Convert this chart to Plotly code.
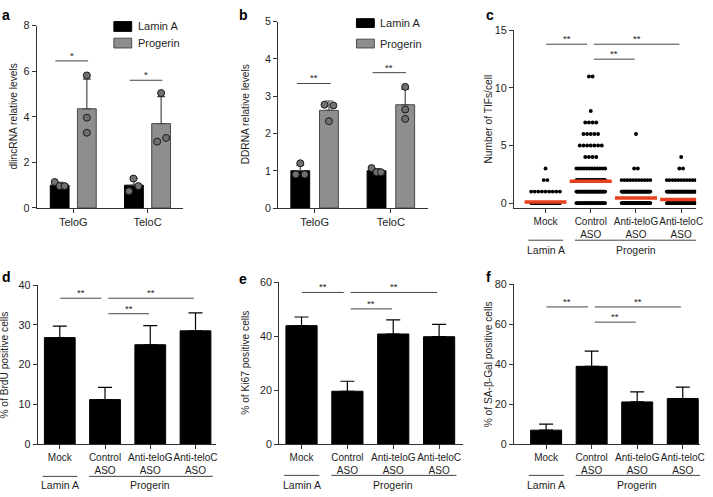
import plotly.graph_objects as go

W, H = 713, 497
FONT = "Liberation Sans, Arial, Helvetica, sans-serif"
TXT = "#1e1e1e"
AX = "#333333"

# ---------------- data ----------------
tel_groups = ["TeloG", "TeloC"]
series_names = ["Lamin A", "Progerin"]
dlinc_lamin_mean = [1.0, 1.0]
dlinc_lamin_sd = [0.12, 0.30]
dlinc_prog_mean = [4.35, 3.70]
dlinc_prog_sd = [1.30, 1.18]
dlinc_lamin_pts = [[1.14, 0.96, 0.96], [1.29, 0.74, 0.96]]
dlinc_prog_pts = [[5.81, 3.96, 3.30], [5.04, 2.91, 3.07]]

ddrna_lamin_mean = [1.0, 1.0]
ddrna_lamin_sd = [0.14, 0.06]
ddrna_prog_mean = [2.62, 2.77]
ddrna_prog_sd = [0.25, 0.42]
ddrna_lamin_pts = [[1.20, 0.90, 0.90], [1.07, 0.96, 0.96]]
ddrna_prog_pts = [[2.77, 2.75, 2.33], [3.25, 2.64, 2.39]]

conditions = ["Mock", "Control<br>ASO", "Anti-teloG<br>ASO", "Anti-teloC<br>ASO"]
tif_levels = [0, 1, 2, 3, 4, 5, 6, 7, 8, 11]
tif_mock_counts = [60, 9, 2, 1, 0, 0, 0, 0, 0, 0]
tif_control_counts = [30, 40, 40, 12, 4, 7, 5, 4, 1, 2]
tif_telog_counts = [50, 50, 11, 2, 0, 0, 1, 0, 0, 0]
tif_teloc_counts = [50, 50, 11, 2, 1, 0, 0, 0, 0, 0]
tif_mean = [0.10, 1.90, 0.45, 0.31]

brdu_mean = [26.8, 11.2, 25.0, 28.5]
brdu_sd = [2.9, 3.1, 4.8, 4.5]
ki67_mean = [43.9, 19.6, 40.8, 39.8]
ki67_sd = [3.2, 3.7, 5.2, 4.6]
sagal_mean = [7.0, 38.9, 21.1, 22.8]
sagal_sd = [3.0, 7.6, 5.0, 5.7]

# ---------------- layout geometry (pixels) ----------------
geo = {
    1: dict(x0=37, x1=185, yt=20, yb=207, xr=[-0.493, 1.48], yr=[0, 8], dt=2),
    2: dict(x0=281, x1=432, yt=16, yb=207, xr=[-0.477, 1.484], yr=[0, 5], dt=1),
    3: dict(x0=519, x1=703, yt=25, yb=207.3, xr=[-0.70, 3.33], yr=[-0.45, 15], dt=5),
    4: dict(x0=38, x1=218, yt=286, yb=449, xr=[-0.49, 3.45], yr=[0, 40], dt=10),
    5: dict(x0=282, x1=468, yt=283, yb=449, xr=[-0.486, 3.53], yr=[0, 60], dt=20),
    6: dict(x0=519, x1=707, yt=285, yb=449, xr=[-0.707, 3.38], yr=[0, 80], dt=20),
}
FILL = {"Lamin A": ("#000000", "#000000"), "Progerin": ("#8e8e8e", "#4a4a4a")}


def ppu(n):
    g = geo[n]
    return (g["x1"] - g["x0"]) / (g["xr"][1] - g["xr"][0])


def ax(n, c):
    return c if n == 1 else f"{c}{n}"


fig = go.Figure()
shapes, annots = [], []

# ---------- panels a & b (grouped bars with points) ----------
jit_a_lamin = [[-5, 0, 5], [-0.5, -5, 4.5]]
jit_a_prog = [[0, 0, 0], [0, -4, 5]]
jit_b_lamin = [[0, -4.5, 4.5], [-5, 0, 4.5]]
jit_b_prog = [[-4.5, 4.5, 0], [0, 0, 0]]

specs = [
    (1, dlinc_lamin_mean, dlinc_lamin_sd, dlinc_prog_mean, dlinc_prog_sd,
     dlinc_lamin_pts, dlinc_prog_pts, jit_a_lamin, jit_a_prog, 0.183, 0.253),
    (2, ddrna_lamin_mean, ddrna_lamin_sd, ddrna_prog_mean, ddrna_prog_sd,
     ddrna_lamin_pts, ddrna_prog_pts, jit_b_lamin, jit_b_prog, 0.188, 0.247),
]
for n, lm, ls, pm, ps, lpts, ppts, jl, jp, off, bw in specs:
    idx = list(range(len(tel_groups)))
    for name, mean, sd, sign, pts, jit in [
        (series_names[0], lm, ls, -1, lpts, jl),
        (series_names[1], pm, ps, 1, ppts, jp),
    ]:
        fill, lc = FILL[name]
        fig.add_trace(go.Bar(
            x=[i + sign * off for i in idx], y=mean, width=bw, name=name,
            marker=dict(color=fill, line=dict(color=lc, width=1)),
            error_y=dict(type="data", array=sd, arrayminus=[0] * len(sd), symmetric=False,
                         color="#4a4a4a", thickness=1.2, width=4),
            xaxis=ax(n, "x"), yaxis=ax(n, "y"), showlegend=False,
        ))
        px = ppu(n)
        xs, ys = [], []
        for i in idx:
            for v, j in zip(pts[i], jit[i]):
                xs.append(i + sign * off + j / px)
                ys.append(v)
        fig.add_trace(go.Scatter(
            x=xs, y=ys, mode="markers", showlegend=False,
            marker=dict(size=7, color="#707070", line=dict(color="#1a1a1a", width=1)),
            xaxis=ax(n, "x"), yaxis=ax(n, "y"), hoverinfo="skip",
        ))

# legend keys for panels a and b
for (sx, rows) in [(115, [(16, 26), (33, 43)]), (360, [(13, 22), (34, 43)])]:
    for name, (t, b) in zip(series_names, rows):
        fill, lc = FILL[name]
        shapes.append(dict(type="rect", xref="paper", yref="paper", x0=sx / W, x1=(sx + 18) / W,
                           y0=1 - b / H, y1=1 - t / H, fillcolor=fill, line=dict(color=lc, width=1)))
        annots.append(dict(text=name, xref="paper", yref="paper", x=(sx + 22) / W, y=1 - (t + b) / 2 / H,
                           showarrow=False, xanchor="left", yanchor="middle",
                           font=dict(size=11, color=TXT, family=FONT)))

# ---------- panel c (dot strip) ----------
n = 3
px = ppu(n)
for i, counts in enumerate([tif_mock_counts, tif_control_counts, tif_telog_counts, tif_teloc_counts]):
    xs, ys = [], []
    for lev, cnt in zip(tif_levels, counts):
        if cnt == 0:
            continue
        step = 3.7 if cnt == 1 else min(3.7, 29.0 / (cnt - 1))
        for k in range(cnt):
            xs.append(i + (k - (cnt - 1) / 2) * step / px)
            ys.append(lev)
    fig.add_trace(go.Scatter(
        x=xs, y=ys, mode="markers", showlegend=False, hoverinfo="skip",
        marker=dict(size=3.9, color="#000000", line=dict(width=0)),
        xaxis="x3", yaxis="y3",
    ))
fig.add_trace(go.Scatter(
    x=list(range(len(tif_mean))), y=tif_mean, mode="markers", showlegend=False,
    marker=dict(symbol="line-ew", size=30, line=dict(color="#e8401c", width=3.5)),
    xaxis="x3", yaxis="y3",
))

# ---------- panels d, e, f (bars) ----------
for n, mean, sd in [(4, brdu_mean, brdu_sd), (5, ki67_mean, ki67_sd), (6, sagal_mean, sagal_sd)]:
    fig.add_trace(go.Bar(
        x=list(range(len(conditions))), y=mean, width=0.68, showlegend=False,
        marker=dict(color="#000000", line=dict(color="#000000", width=1)),
        error_y=dict(type="data", array=sd, arrayminus=[0] * len(sd), symmetric=False,
                     color="#000000", thickness=1.2, width=7),
        xaxis=ax(n, "x"), yaxis=ax(n, "y"),
    ))

# ---------- axes ----------
layout = {}
for n, g in geo.items():
    xd = [g["x0"] / W, g["x1"] / W]
    yd = [1 - g["yb"] / H, 1 - g["yt"] / H]
    if n <= 2:
        tv, tt, fs = list(range(len(tel_groups))), tel_groups, 11
    else:
        tv, tt, fs = list(range(len(conditions))), conditions, 10
    layout["xaxis" if n == 1 else f"xaxis{n}"] = dict(
        domain=xd, range=g["xr"], anchor=ax(n, "y"), showgrid=False, zeroline=False,
        showline=True, linecolor=AX, linewidth=1, ticks="outside", ticklen=4,
        tickcolor=AX, tickwidth=1, tickvals=tv, ticktext=tt, tickangle=0,
        tickfont=dict(size=fs, color=TXT, family=FONT), fixedrange=True,
    )
    yvals = list(range(0, int(g["yr"][1]) + 1, g["dt"]))
    layout["yaxis" if n == 1 else f"yaxis{n}"] = dict(
        domain=yd, range=g["yr"], anchor=ax(n, "x"), showgrid=False, zeroline=False,
        showline=True, linecolor=AX, linewidth=1, ticks="outside", ticklen=4,
        tickcolor=AX, tickwidth=1, tickvals=yvals,
        tickfont=dict(size=10.8, color=TXT, family=FONT), fixedrange=True,
    )

# y titles
ytitles = {1: ("dlincRNA relative levels", 14), 2: ("DDRNA relative levels", 248),
           3: ("Number of TIFs/cell", 493), 4: ("% of BrdU positive cells", 5),
           5: ("% of Ki67 positive cells", 248), 6: ("% of SA-β-Gal positive cells", 493)}
for n, (t, xp) in ytitles.items():
    g = geo[n]
    annots.append(dict(text=t, textangle=-90, x=xp / W, y=1 - (g["yt"] + g["yb"]) / 2 / H,
                       xref="paper", yref="paper", showarrow=False, xanchor="center",
                       yanchor="middle", font=dict(size=10.2, color=TXT, family=FONT)))

# panel letters
for lab, xp, yp in [("a", 0, 9), ("b", 239, 9), ("c", 489, 9),
                    ("d", 0, 278), ("e", 239, 280), ("f", 489, 278)]:
    annots.append(dict(text=f"<b>{lab}</b>", x=xp / W, y=1 - yp / H, xref="paper", yref="paper",
                       showarrow=False, xanchor="left", yanchor="middle",
                       font=dict(size=14, color="#000000", family=FONT)))


# significance bars
def sig(n, x0, x1, y, label):
    shapes.append(dict(type="line", xref=ax(n, "x"), yref=ax(n, "y"), x0=x0, x1=x1, y0=y, y1=y,
                       line=dict(color="#444444", width=1)))
    annots.append(dict(text=label, xref=ax(n, "x"), yref=ax(n, "y"), x=(x0 + x1) / 2, y=y,
                       showarrow=False, yanchor="bottom", yshift=-2,
                       font=dict(size=9.5, color="#222222", family=FONT)))


sig(1, -0.24, 0.20, 6.45, "*")
sig(1, 0.76, 1.20, 5.6, "*")
sig(2, -0.23, 0.21, 3.34, "**")
sig(2, 0.76, 1.20, 3.63, "**")
for n, hi, lo in [(3, 13.8, 12.5), (4, 36.7, 32.8), (5, 56.2, 50.1), (6, 68.6, 61.0)]:
    sig(n, 0.01, 0.92, hi, "**")
    sig(n, 1.07, 2.96, hi, "**")
    sig(n, 1.07, 1.97, lo, "**")

# group labels
for n, yline, ytext in [(3, 240, 250), (4, 482, 491), (5, 481, 491), (6, 481, 491)]:
    for x0, x1, t in [(-0.38, 0.39, "Lamin A"), (0.65, 3.38, "Progerin")]:
        shapes.append(dict(type="line", xref=ax(n, "x"), yref="paper", x0=x0, x1=x1,
                           y0=1 - yline / H, y1=1 - yline / H, line=dict(color="#444444", width=1)))
        annots.append(dict(text=t, xref=ax(n, "x"), yref="paper", x=(x0 + x1) / 2 if t == "Lamin A" else 2.0,
                           y=1 - ytext / H, showarrow=False, xanchor="center", yanchor="middle",
                           font=dict(size=10.5, color=TXT, family=FONT)))

fig.update_layout(
    width=W, height=H, margin=dict(l=0, r=0, t=0, b=0),
    paper_bgcolor="white", plot_bgcolor="white", barmode="overlay", showlegend=False,
    font=dict(family=FONT, size=10, color=TXT),
    shapes=shapes, annotations=annots,
    **layout,
)
fig.write_html("out.html", config={"displayModeBar": False},
               post_script="document.body.style.margin='0';document.body.style.overflow='hidden';")
